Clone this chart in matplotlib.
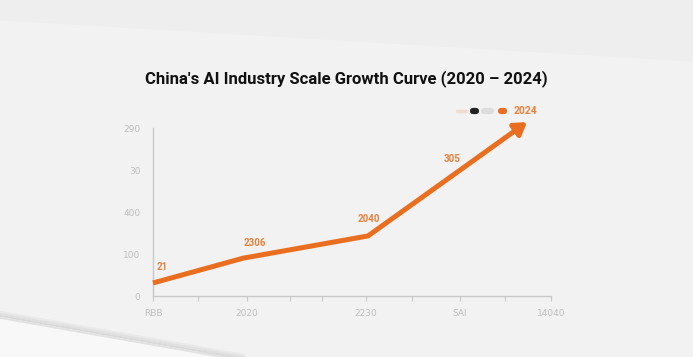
import matplotlib
matplotlib.use("Agg")
import matplotlib.pyplot as plt
from matplotlib.patches import Polygon

# ---- data ----
title = "China's AI Industry Scale Growth Curve (2020 – 2024)"
x_pos = [0, 90, 215, 299, 374]
values = [31, 90, 143, 286, 414]
point_labels = ["21", "2306", "2040", "305", "2024"]
y_ticks = [0, 100, 200, 300, 400]
y_tick_labels = ["0", "100", "400", "30", "290"]
x_major = [0, 94, 213, 307, 398]
x_major_labels = ["RBB", "2020", "2230", "SAI", "14040"]
x_minor = [45, 137, 169, 259, 352]

W, H = 693, 357
fig = plt.figure(figsize=(W / 100, H / 100), dpi=100)
fig.patch.set_facecolor("#f2f2f2")

def fp(x, y):
    return (x / W, 1 - y / H)

# paper / background shading
fig.add_artist(Polygon([fp(-5, -5), fp(700, -5), fp(700, 62), fp(-5, 20)],
                       closed=True, transform=fig.transFigure,
                       facecolor="#eeeeee", edgecolor="none", zorder=0))
fig.add_artist(Polygon([fp(-5, 316), fp(245, 360), fp(-5, 360)],
                       closed=True, transform=fig.transFigure,
                       facecolor="#f8f8f8", edgecolor="none", zorder=0))
for k, c in enumerate(["#e9e9e9", "#e0e0e0", "#d9d9d9", "#e2e2e2"]):
    y0 = 310 + k * 2
    fig.add_artist(Polygon([fp(-5, y0), fp(245, y0 + 44), fp(245, y0 + 46), fp(-5, y0 + 2)],
                           closed=True, transform=fig.transFigure,
                           facecolor=c, edgecolor="none", zorder=0))

# axes
ax = fig.add_axes([fp(153, 0)[0], fp(0, 296)[1],
                   (551 - 153) / W, (296 - 128) / H])
ax.set_facecolor("none")
ax.set_xlim(0, 398)
ax.set_ylim(0, 400)
for s in ["top", "right"]:
    ax.spines[s].set_visible(False)
for s in ["left", "bottom"]:
    ax.spines[s].set_color("#c9c9c9")
    ax.spines[s].set_linewidth(1.0)

ax.set_yticks(y_ticks)
ax.set_yticklabels(y_tick_labels)
ax.set_xticks(x_major)
ax.set_xticklabels(x_major_labels)
ax.set_xticks(x_minor, minor=True)
ax.tick_params(axis="y", length=0, pad=9, labelsize=6.5, labelcolor="#bdbdbd")
ax.tick_params(axis="x", which="both", length=3.5, width=0.8, color="#c9c9c9",
               pad=6, labelsize=6.5, labelcolor="#bdbdbd")

orange = "#ea6e1f"
ax.plot(x_pos[:-1], values[:-1], color=orange, lw=3.6,
        solid_joinstyle="miter", solid_capstyle="butt", zorder=3, clip_on=False)
ax.annotate("", xy=(x_pos[-1], values[-1]), xytext=(x_pos[-2], values[-2]),
            arrowprops=dict(arrowstyle="-|>,head_length=0.7,head_width=0.45",
                            color=orange, lw=3.6, shrinkA=0, shrinkB=0),
            annotation_clip=False, zorder=3)

label_offsets = [(4, 38), (12, 36), (1, 40), (0, 40)]
lab_color = "#e8823e"
for i, (dx, dy) in enumerate(label_offsets):
    ax.text(x_pos[i] + dx, values[i] + dy, point_labels[i],
            ha="left" if i == 0 else "center", va="center",
            fontsize=7, color=lab_color, fontweight="bold",
            family="Roboto", clip_on=False)

# legend-like header with last label
fig.text(*fp(514, 111), point_labels[-1], ha="left", va="center",
         fontsize=7.5, color=lab_color, fontweight="bold", family="Roboto")
def pill(x0, x1, y, color, lw):
    fig.add_artist(plt.Line2D([x0 / W, x1 / W], [1 - y / H, 1 - y / H],
                              transform=fig.transFigure, color=color, lw=lw,
                              solid_capstyle="round"))
pill(457, 466, 111, "#efdccd", 2.5)
pill(473, 476, 111, "#222222", 4.5)
pill(484, 491, 111, "#dddddd", 4.5)
pill(501, 504, 111, orange, 4.5)

fig.text(*fp(346, 79), title, ha="center", va="center",
         fontsize=12, fontweight="bold", color="#111111", family="Roboto")

fig.savefig("out.png", dpi=100, facecolor=fig.get_facecolor())
